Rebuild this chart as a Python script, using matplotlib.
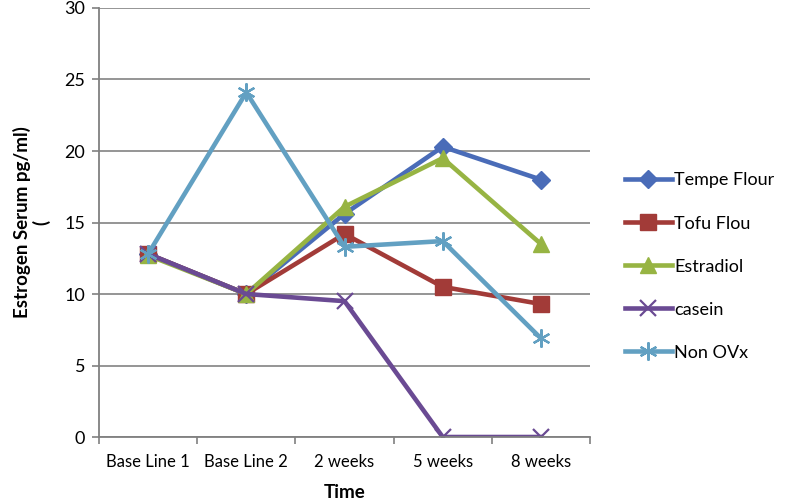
import matplotlib.pyplot as plt
import numpy as np

categories = ['Base Line 1', 'Base Line 2', '2 weeks', '5 weeks', '8 weeks']
tempe_flour = [12.8, 10.0, 15.6, 20.3, 18.0]
tofu_flou = [12.8, 10.0, 14.2, 10.5, 9.3]
estradiol = [12.7, 10.0, 16.1, 19.5, 13.5]
casein = [12.8, 10.0, 9.5, 0.0, 0.0]
non_ovx = [12.8, 24.1, 13.3, 13.7, 6.9]

plt.rcParams['font.family'] = ['Lato', 'DejaVu Sans']

fig = plt.figure(figsize=(7.87, 5.03), dpi=100)
ax = fig.add_axes([0.1258, 0.1312, 0.6239, 0.8529])

x = np.arange(len(categories))
ax.plot(x, tempe_flour, color='#4A6CB8', lw=3.3, marker='D', ms=9.5, label='Tempe Flour')
ax.plot(x, tofu_flou, color='#A23B38', lw=3.3, marker='s', ms=11, label='Tofu Flou')
ax.plot(x, estradiol, color='#97B443', lw=3.3, marker='^', ms=12, label='Estradiol')
ax.plot(x, casein, color='#6A4A93', lw=3.3, marker='x', ms=11, mew=1.6, label='casein')
ax.plot(x, non_ovx, color='#62A0C2', lw=3.3, marker=(6, 2, 0), ms=13, mew=1.6, label='Non OVx')

ax.set_xlim(-0.5, len(categories) - 0.5)
ax.set_ylim(0, 30)
ax.set_yticks(np.arange(0, 31, 5))
ax.set_xticks(x)
ax.set_xticklabels(categories, fontsize=12)
ax.set_xticks(np.arange(-0.5, len(categories), 1), minor=True)
ax.tick_params(axis='x', which='major', length=0, pad=12)
ax.tick_params(axis='x', which='minor', length=5, color='#808080', width=1.2)
ax.tick_params(axis='y', length=5, color='#808080', width=1.2, labelsize=13, pad=5)

ax.grid(axis='y', color='#8C8C8C', lw=1.3)
ax.set_axisbelow(True)
for s in ['top', 'right']:
    ax.spines[s].set_visible(False)
for s in ['left', 'bottom']:
    ax.spines[s].set_color('#808080')
    ax.spines[s].set_linewidth(1.3)

ax.set_xlabel('Time', fontsize=13.5, fontweight='bold', labelpad=10)
ax.set_ylabel('Estrogen Serum pg/ml)\n(', fontsize=13.5, fontweight='bold', labelpad=10,
              linespacing=1.1)

fig.legend(loc='center left', bbox_to_anchor=(0.773, 0.47), frameon=False,
           fontsize=13, labelspacing=1.5, handlelength=2.6, handletextpad=0.15)

fig.savefig('out.png', dpi=100)
